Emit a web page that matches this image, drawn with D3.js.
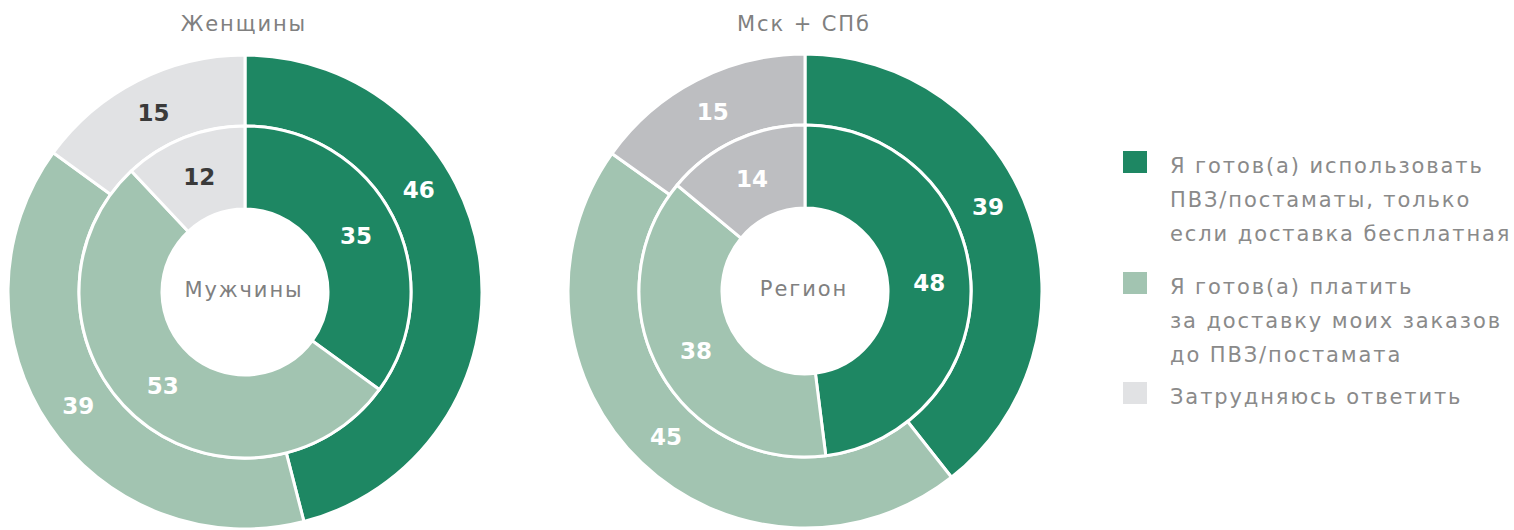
<!DOCTYPE html>
<html>
<head>
<meta charset="utf-8">
<script src="https://cdn.jsdelivr.net/npm/d3@7"></script>
<style>
  body { margin: 0; background: #fff; }
  svg text { font-family: "DejaVu Sans", "Noto Sans", sans-serif; }
</style>
</head>
<body>
<div id="chart"></div>
<script>
// categories (legend)
var categories = [
  ["Я готов(а) использовать", "ПВЗ/постаматы, только", "если доставка бесплатная"],
  ["Я готов(а) платить", "за доставку моих заказов", "до ПВЗ/постамата"],
  ["Затрудняюсь ответить"]
];

// chart 1: outer = Женщины, inner = Мужчины
var womenValues = [46, 39, 15];
var menValues = [35, 53, 12];
// chart 2: outer = Мск + СПб, inner = Регион
var capitalsValues = [39, 45, 15];
var regionValues = [48, 38, 14];

var outerTitles = ["Женщины", "Мск + СПб"];
var innerTitles = ["Мужчины", "Регион"];

var width = 1514, height = 530;
var green = "#1e8763", lightGreen = "#a2c4b1", lightGray = "#e1e2e4", darkGray = "#bdbec1";
var spacing = 1.9;

var svg = d3.select("#chart").append("svg")
  .attr("width", width).attr("height", height);

var charts = [
  { cx: 245, cy: 292, outer: womenValues, inner: menValues, gray: lightGray, grayText: "#3a3a3a",
    outerFrac: [0.36, 0.5, 0.5] },
  { cx: 805, cy: 291, outer: capitalsValues, inner: regionValues, gray: darkGray, grayText: "#fff",
    outerFrac: [0.46, 0.5, 0.5] }
];

var pie = d3.pie().sort(null).value(function(d) { return d; });

var rHole = 83, rMid = 166, rOuter = 237;

charts.forEach(function(c, ci) {
  var g = svg.append("g").attr("transform", "translate(" + c.cx + "," + c.cy + ")");
  var colors = [green, lightGreen, c.gray];
  var textColors = ["#fff", "#fff", c.grayText];

  drawRing(g, c.outer, rMid, rOuter, colors, textColors, c.outerFrac);
  drawRing(g, c.inner, rHole, rMid, colors, textColors, [0.5, 0.5, 0.5]);

  g.append("text")
    .attr("x", -2 + spacing / 2).attr("y", 5)
    .attr("text-anchor", "middle")
    .attr("font-size", 21)
    .attr("letter-spacing", spacing)
    .attr("fill", "#808080")
    .text(innerTitles[ci]);

  svg.append("text")
    .attr("x", c.cx - 2 + spacing / 2).attr("y", 31)
    .attr("text-anchor", "middle")
    .attr("font-size", 21)
    .attr("letter-spacing", spacing)
    .attr("fill", "#808080")
    .text(outerTitles[ci]);
});

function drawRing(g, values, r0, r1, colors, textColors, fracs) {
  var arc = d3.arc().innerRadius(r0).outerRadius(r1);
  var arcs = pie(values);
  g.selectAll(null)
    .data(arcs)
    .enter().append("path")
      .attr("d", arc)
      .attr("fill", function(d, i) { return colors[i]; })
      .attr("stroke", "#fff")
      .attr("stroke-width", 3);

  var rl = (r0 + r1) / 2;
  g.selectAll(null)
    .data(arcs)
    .enter().append("text")
      .attr("transform", function(d, i) {
        var a = d.startAngle + (d.endAngle - d.startAngle) * fracs[i];
        return "translate(" + (Math.sin(a) * rl) + "," + (-Math.cos(a) * rl) + ")";
      })
      .attr("dy", "0.36em")
      .attr("text-anchor", "middle")
      .attr("font-size", 23)
      .attr("font-weight", "bold")
      .attr("fill", function(d, i) { return textColors[i]; })
      .text(function(d) { return d.data; });
}

// legend
var legendColors = [green, lightGreen, lightGray];
var legendTop = [151, 272, 382];
var legend = svg.append("g");
categories.forEach(function(lines, i) {
  legend.append("rect")
    .attr("x", 1123).attr("y", legendTop[i])
    .attr("width", 24).attr("height", 22)
    .attr("fill", legendColors[i]);
  lines.forEach(function(line, j) {
    legend.append("text")
      .attr("x", 1170).attr("y", legendTop[i] + 22 + j * 34)
      .attr("font-size", 21)
      .attr("letter-spacing", spacing)
      .attr("fill", "#8a8a8a")
      .text(line);
  });
});
</script>
</body>
</html>
